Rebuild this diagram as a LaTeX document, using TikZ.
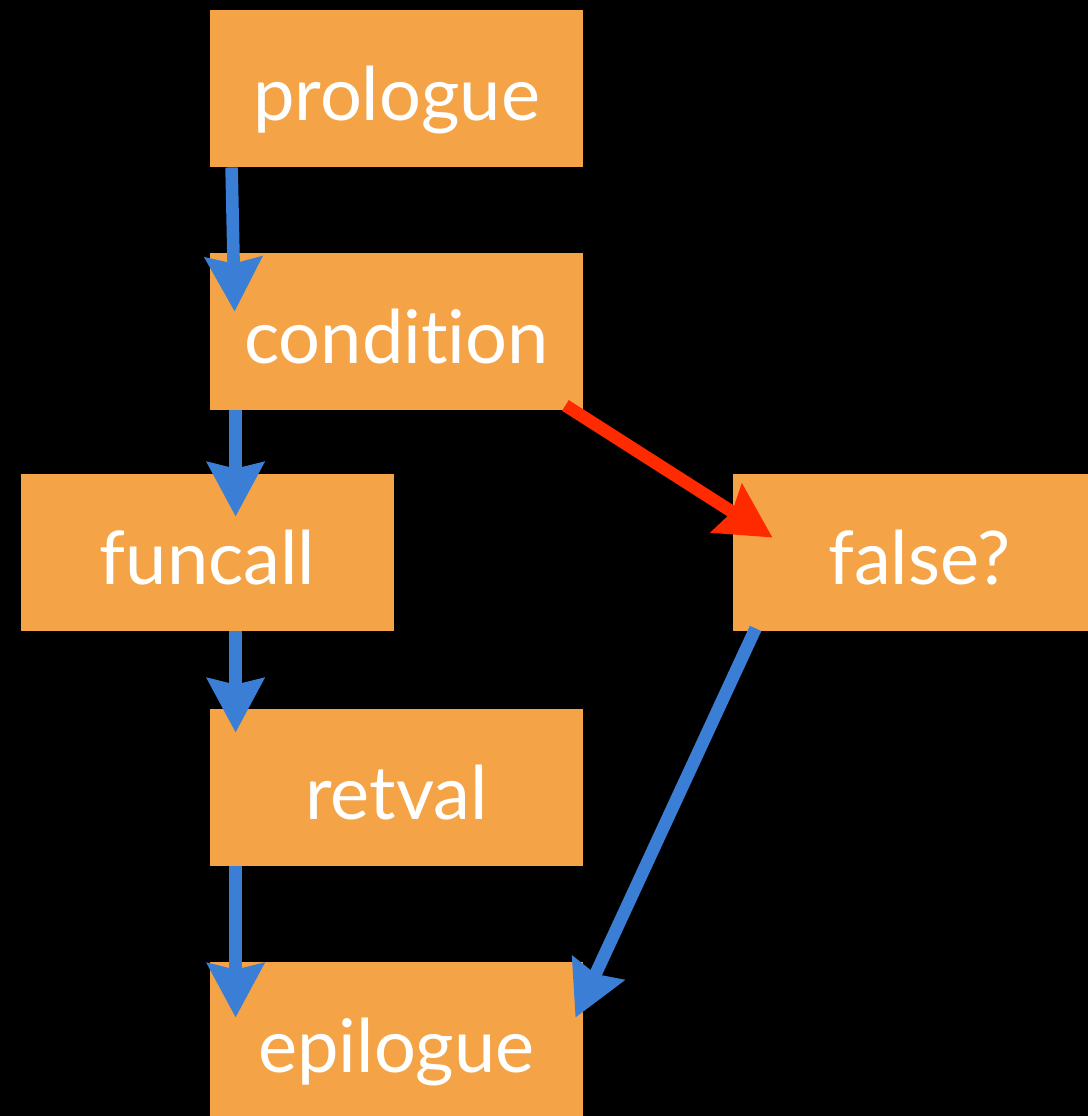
\documentclass[tikz,border=0pt]{standalone}
\usepackage{fontspec}
\setmainfont{Lato}[Ligatures=NoCommon]
\usetikzlibrary{arrows.meta}
\definecolor{boxorange}{RGB}{244,164,71}
\definecolor{flowblue}{RGB}{58,127,213}
\definecolor{flowred}{RGB}{255,42,0}

\begin{document}
\begin{tikzpicture}[x=0.5pt,y=-0.5pt,>={Stealth[length=27pt,width=28pt,inset=3pt]}]
\tikzset{
    step box/.style={%
        fill=boxorange,
        rectangle,
        inner sep=0pt,
        minimum height=78.5pt,
        minimum width=186.5pt,
        text height=34pt,
        text depth=2.5pt,
        text=white,
        font=\fontsize{37}{40}\selectfont
        },
    flow/.style={%
        ->, draw=flowblue, line width=6.3pt
        },
    jump/.style={%
        ->, draw=flowred, line width=6.3pt
        },
}
%%%BACKGROUND
\fill[black] (0,0) rectangle (1088,1116);
\useasboundingbox (0,0) rectangle (1088,1116);
\clip (0,0) rectangle (1088,1116);
%%%BOXES
\node[step box] (prologue) at (396.5,88.5) {prologue};
\node[step box] (condition) at (396.5,331.5) {condition};
\node[step box] (funcall) at (207.5,552.5) {funcall};
\node[step box] (false) at (919.5,552.5) {false?};
\node[step box] (retval) at (396.5,787.5) {retval};
\node[step box] (epilogue) at (396.5,1040.5) {epilogue};
%%%ARROWS
\draw[flow] ([xshift=11pt]prologue.south west) -- ([xshift=12.5pt,yshift=-29.5pt]condition.north west);
\draw[flow] ([xshift=13pt]condition.south west) -- ([xshift=107.5pt,yshift=-21.5pt]funcall.north west);
\draw[flow] ([xshift=107.5pt]funcall.south west) -- ([xshift=13pt,yshift=-12pt]retval.north west);
\draw[flow] ([xshift=13pt]retval.south west) -- ([xshift=13pt,yshift=-28pt]epilogue.north west);
\draw[jump] ([xshift=-9pt,yshift=2.5pt]condition.south east) -- ([xshift=20pt,yshift=-32pt]false.north west);
\draw[flow] ([xshift=11.5pt,yshift=1.5pt]false.south west) -- ([xshift=-4pt,yshift=-28pt]epilogue.north east);
\end{tikzpicture}
\end{document}
